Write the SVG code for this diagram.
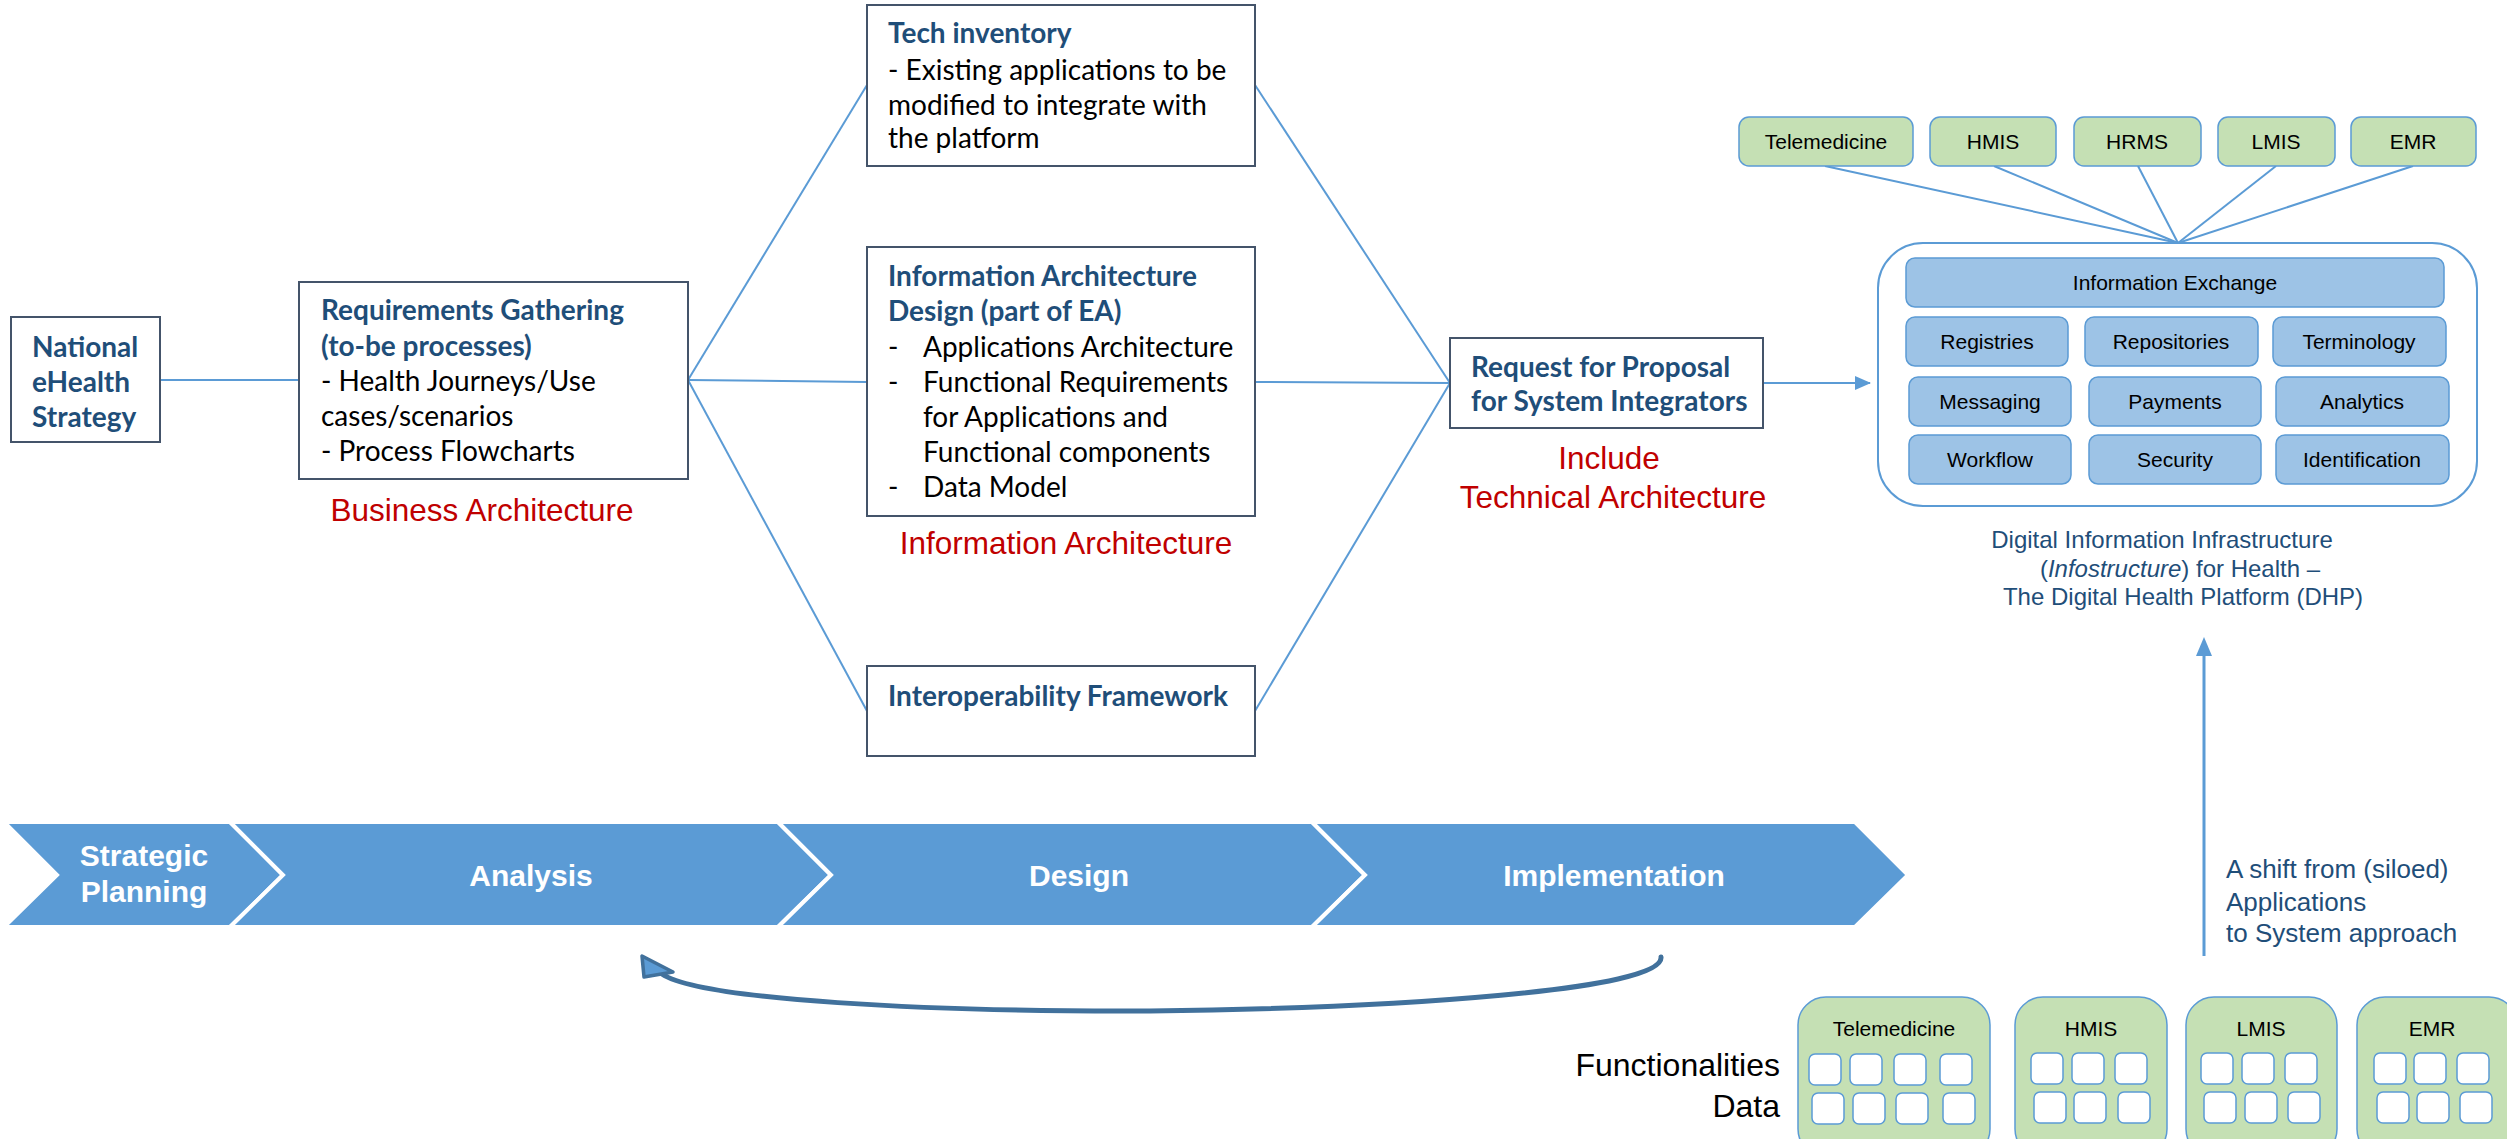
<svg xmlns="http://www.w3.org/2000/svg" width="2507" height="1139" viewBox="0 0 2507 1139">
<defs>
<style>
.box{fill:#fff;stroke:#44546A;stroke-width:2}
.hd{font-family:Lato,"Liberation Sans",sans-serif;font-weight:bold;fill:#1F4E79;font-size:28px}
.bd{font-family:Lato,"Liberation Sans",sans-serif;fill:#000;font-size:28px}
.red{font-family:"Liberation Sans",Arial,sans-serif;fill:#C00000;font-size:31.5px;text-anchor:middle}
.app{fill:#C5E0B4;stroke:#5B9BD5;stroke-width:1.5}
.lbl{font-family:"Liberation Sans",Arial,sans-serif;font-size:21px;text-anchor:middle;fill:#000}
.svc{fill:#9DC3E6;stroke:#5B9BD5;stroke-width:1.5}
.cell{fill:#fff;stroke:#5B9BD5;stroke-width:1.5}
.conn{stroke:#5B9BD5;stroke-width:2;fill:none}
.chev{fill:#5B9BD5;stroke:#fff;stroke-width:4}
.chevt{font-family:"Liberation Sans",Arial,sans-serif;font-weight:bold;font-size:30px;fill:#fff;text-anchor:middle}
.cap{font-family:"Liberation Sans",Arial,sans-serif;font-size:24px;fill:#1F4E79;text-anchor:middle}
.note{font-family:"Liberation Sans",Arial,sans-serif;font-size:26px;fill:#1F4E79}
.big{font-family:"Liberation Sans",Arial,sans-serif;font-size:32px;fill:#000;text-anchor:end}
</style>
<marker id="ah" markerWidth="16" markerHeight="14" refX="15" refY="7" orient="auto" markerUnits="userSpaceOnUse">
<path d="M0,0 L16,7 L0,14 Z" fill="#5B9BD5"/>
</marker>
</defs>
<rect width="2507" height="1139" fill="#fff"/>

<g id="connectors">
<line class="conn" x1="160" y1="380" x2="299" y2="380"/>
<line class="conn" x1="688" y1="380" x2="867" y2="85"/>
<line class="conn" x1="688" y1="380" x2="867" y2="382"/>
<line class="conn" x1="688" y1="380" x2="867" y2="711"/>
<line class="conn" x1="1255" y1="85" x2="1450" y2="383"/>
<line class="conn" x1="1255" y1="382" x2="1450" y2="383"/>
<line class="conn" x1="1255" y1="711" x2="1450" y2="383"/>
<line class="conn" x1="1763" y1="383" x2="1870" y2="383" marker-end="url(#ah)"/>
<line class="conn" x1="1825" y1="166" x2="2178" y2="243"/>
<line class="conn" x1="1994" y1="166" x2="2178" y2="243"/>
<line class="conn" x1="2138" y1="166" x2="2178" y2="243"/>
<line class="conn" x1="2276" y1="166" x2="2178" y2="243"/>
<line class="conn" x1="2413" y1="166" x2="2178" y2="243"/>
<line x1="2204" y1="956" x2="2204" y2="650" stroke="#5B9BD5" stroke-width="3"/>
<polygon points="2204,637 2196,656 2212,656" fill="#5B9BD5"/>
<path d="M1661,957 C1665,990 1400,1008 1150,1011 C930,1012 700,1000 662,974" fill="none" stroke="#41719C" stroke-width="5" stroke-linecap="round"/>
<polygon points="642,956 644,977 673,972" fill="#5B9BD5" stroke="#41719C" stroke-width="3.5" stroke-linejoin="round"/>
</g>

<g id="national">
<rect class="box" x="11" y="317" width="149" height="125"/>
<text class="hd" x="32" y="357">National</text>
<text class="hd" x="32" y="392">eHealth</text>
<text class="hd" x="32" y="427">Strategy</text>
</g>

<g id="requirements">
<rect class="box" x="299" y="282" width="389" height="197"/>
<text class="hd" x="321" y="320">Requirements Gathering</text>
<text class="hd" x="321" y="356">(to-be processes)</text>
<text class="bd" x="321" y="391">- Health Journeys/Use</text>
<text class="bd" x="321" y="426">cases/scenarios</text>
<text class="bd" x="321" y="461">- Process Flowcharts</text>
<text class="red" x="482" y="521">Business Architecture</text>
</g>

<g id="tech-inventory">
<rect class="box" x="867" y="5" width="388" height="161"/>
<text class="hd" x="888" y="43">Tech inventory</text>
<text class="bd" x="888" y="80">- Existing applications to be</text>
<text class="bd" x="888" y="115">modified to integrate with</text>
<text class="bd" x="888" y="148">the platform</text>
</g>

<g id="info-arch">
<rect class="box" x="867" y="247" width="388" height="269"/>
<text class="hd" x="888" y="286">Information Architecture</text>
<text class="hd" x="888" y="321">Design (part of EA)</text>
<text class="bd" x="888" y="357">-</text><text class="bd" x="923" y="357">Applications Architecture</text>
<text class="bd" x="888" y="392">-</text><text class="bd" x="923" y="392">Functional Requirements</text>
<text class="bd" x="923" y="427">for Applications and</text>
<text class="bd" x="923" y="462">Functional components</text>
<text class="bd" x="888" y="497">-</text><text class="bd" x="923" y="497">Data Model</text>
<text class="red" x="1066" y="554">Information Architecture</text>
</g>

<g id="interop">
<rect class="box" x="867" y="666" width="388" height="90"/>
<text class="hd" x="888" y="706">Interoperability Framework</text>
</g>

<g id="rfp">
<rect class="box" x="1450" y="338" width="313" height="90"/>
<text class="hd" x="1471" y="377">Request for Proposal</text>
<text class="hd" x="1471" y="411">for System Integrators</text>
<text class="red" x="1609" y="469">Include</text>
<text class="red" x="1613" y="508">Technical Architecture</text>
</g>

<g id="top-apps">
<rect class="app" x="1739" y="117" width="174" height="49" rx="10"/>
<text class="lbl" x="1826" y="149">Telemedicine</text>
<rect class="app" x="1930" y="117" width="126" height="49" rx="10"/>
<text class="lbl" x="1993" y="149">HMIS</text>
<rect class="app" x="2074" y="117" width="127" height="49" rx="10"/>
<text class="lbl" x="2137" y="149">HRMS</text>
<rect class="app" x="2218" y="117" width="117" height="49" rx="10"/>
<text class="lbl" x="2276" y="149">LMIS</text>
<rect class="app" x="2351" y="117" width="125" height="49" rx="10"/>
<text class="lbl" x="2413" y="149">EMR</text>
</g>

<g id="platform">
<rect x="1878" y="243" width="599" height="263" rx="45" fill="#fff" stroke="#5B9BD5" stroke-width="2"/>
<rect class="svc" x="1906" y="258" width="538" height="49" rx="9"/>
<text class="lbl" x="2175" y="290">Information Exchange</text>
<rect class="svc" x="1906" y="317" width="162" height="49" rx="9"/>
<text class="lbl" x="1987" y="349">Registries</text>
<rect class="svc" x="2085" y="317" width="173" height="49" rx="9"/>
<text class="lbl" x="2171" y="349">Repositories</text>
<rect class="svc" x="2273" y="317" width="173" height="49" rx="9"/>
<text class="lbl" x="2359" y="349">Terminology</text>
<rect class="svc" x="1909" y="377" width="162" height="49" rx="9"/>
<text class="lbl" x="1990" y="409">Messaging</text>
<rect class="svc" x="2089" y="377" width="172" height="49" rx="9"/>
<text class="lbl" x="2175" y="409">Payments</text>
<rect class="svc" x="2276" y="377" width="173" height="49" rx="9"/>
<text class="lbl" x="2362" y="409">Analytics</text>
<rect class="svc" x="1909" y="435" width="162" height="49" rx="9"/>
<text class="lbl" x="1990" y="467">Workflow</text>
<rect class="svc" x="2089" y="435" width="172" height="49" rx="9"/>
<text class="lbl" x="2175" y="467">Security</text>
<rect class="svc" x="2276" y="435" width="173" height="49" rx="9"/>
<text class="lbl" x="2362" y="467">Identification</text>
<text class="cap" x="2162" y="548">Digital Information Infrastructure</text>
<text class="cap" x="2180" y="577">(<tspan font-style="italic">Infostructure</tspan>) for Health –</text>
<text class="cap" x="2183" y="605">The Digital Health Platform (DHP)</text>
</g>

<g id="shift-note">
<text class="note" x="2226" y="878">A shift from (siloed)</text>
<text class="note" x="2226" y="911">Applications</text>
<text class="note" x="2226" y="942">to System approach</text>
</g>

<g id="phases">
<polygon class="chev" points="4,822 230,822 283,875 230,927 4,927 57,875"/>
<polygon class="chev" points="230,822 778,822 831,875 778,927 230,927 283,875"/>
<polygon class="chev" points="778,822 1312,822 1365,875 1312,927 778,927 831,875"/>
<polygon class="chev" points="1312,822 1855,822 1908,875 1855,927 1312,927 1365,875"/>
<text class="chevt" x="144" y="866">Strategic</text>
<text class="chevt" x="144" y="902">Planning</text>
<text class="chevt" x="531" y="886">Analysis</text>
<text class="chevt" x="1079" y="886">Design</text>
<text class="chevt" x="1614" y="886">Implementation</text>
</g>

<g id="legend">
<text class="big" x="1780" y="1076">Functionalities</text>
<text class="big" x="1780" y="1117">Data</text>
</g>

<g id="bottom-apps">
<rect class="app" x="1798" y="997" width="192" height="160" rx="28"/>
<text class="lbl" x="1894" y="1036">Telemedicine</text>
<rect class="cell" x="1809" y="1054" width="32" height="31" rx="6"/>
<rect class="cell" x="1850" y="1054" width="32" height="31" rx="6"/>
<rect class="cell" x="1894" y="1054" width="32" height="31" rx="6"/>
<rect class="cell" x="1940" y="1054" width="32" height="31" rx="6"/>
<rect class="cell" x="1812" y="1093" width="32" height="31" rx="6"/>
<rect class="cell" x="1853" y="1093" width="32" height="31" rx="6"/>
<rect class="cell" x="1896" y="1093" width="32" height="31" rx="6"/>
<rect class="cell" x="1943" y="1093" width="32" height="31" rx="6"/>

<rect class="app" x="2015" y="997" width="152" height="160" rx="28"/>
<text class="lbl" x="2091" y="1036">HMIS</text>
<rect class="cell" x="2031" y="1053" width="32" height="31" rx="6"/>
<rect class="cell" x="2072" y="1053" width="32" height="31" rx="6"/>
<rect class="cell" x="2115" y="1053" width="32" height="31" rx="6"/>
<rect class="cell" x="2034" y="1092" width="32" height="31" rx="6"/>
<rect class="cell" x="2074" y="1092" width="32" height="31" rx="6"/>
<rect class="cell" x="2118" y="1092" width="32" height="31" rx="6"/>

<rect class="app" x="2186" y="997" width="151" height="160" rx="28"/>
<text class="lbl" x="2261" y="1036">LMIS</text>
<rect class="cell" x="2201" y="1053" width="32" height="31" rx="6"/>
<rect class="cell" x="2242" y="1053" width="32" height="31" rx="6"/>
<rect class="cell" x="2285" y="1053" width="32" height="31" rx="6"/>
<rect class="cell" x="2204" y="1092" width="32" height="31" rx="6"/>
<rect class="cell" x="2245" y="1092" width="32" height="31" rx="6"/>
<rect class="cell" x="2288" y="1092" width="32" height="31" rx="6"/>

<rect class="app" x="2357" y="997" width="160" height="160" rx="28"/>
<text class="lbl" x="2432" y="1036">EMR</text>
<rect class="cell" x="2374" y="1053" width="32" height="31" rx="6"/>
<rect class="cell" x="2414" y="1053" width="32" height="31" rx="6"/>
<rect class="cell" x="2457" y="1053" width="32" height="31" rx="6"/>
<rect class="cell" x="2377" y="1092" width="32" height="31" rx="6"/>
<rect class="cell" x="2417" y="1092" width="32" height="31" rx="6"/>
<rect class="cell" x="2460" y="1092" width="32" height="31" rx="6"/>
</g>
</svg>
